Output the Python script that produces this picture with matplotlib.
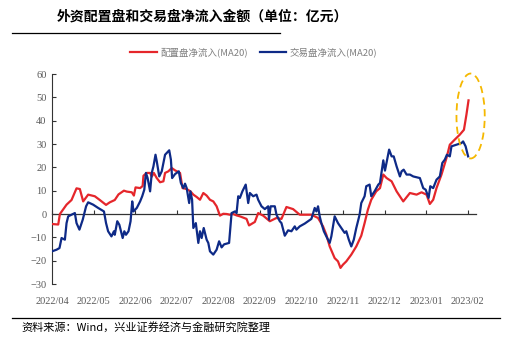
import matplotlib
matplotlib.use('Agg')
import matplotlib.pyplot as plt
from matplotlib.lines import Line2D
from matplotlib.patches import Ellipse

plt.rcParams['font.family'] = ['Noto Sans CJK SC', 'DejaVu Sans']

# x = months since 2022/04 (category axis in the original)
month_labels = ['2022/04', '2022/05', '2022/06', '2022/07', '2022/08', '2022/09',
                '2022/10', '2022/11', '2022/12', '2023/01', '2023/02']

# 配置盘净流入(MA20)
red_x = [0.00, 0.15, 0.19, 0.35, 0.47, 0.59, 0.67, 0.75, 0.87, 1.03, 1.15, 1.30,
         1.39, 1.51, 1.60, 1.73, 1.80, 1.92, 1.97, 2.01, 2.12, 2.18, 2.20, 2.28,
         2.36, 2.40, 2.45, 2.52, 2.60, 2.68, 2.72, 2.80, 2.88, 2.96, 3.08, 3.14,
         3.24, 3.33, 3.40, 3.48, 3.56, 3.64, 3.72, 3.80, 3.88, 3.96, 4.04, 4.12,
         4.20, 4.28, 4.36, 4.44, 4.52, 4.68, 4.74, 4.88, 4.96, 5.08, 5.24, 5.40,
         5.52, 5.64, 5.80, 5.96, 6.24, 6.40, 6.52, 6.60, 6.68, 6.80, 6.88, 6.94,
         7.00, 7.08, 7.20, 7.32, 7.44, 7.52, 7.60, 7.68, 7.80, 7.89, 7.97, 8.05,
         8.17, 8.29, 8.45, 8.61, 8.77, 8.89, 9.01, 9.09, 9.17, 9.25, 9.37, 9.49,
         9.57, 9.69, 9.81, 9.91, 9.97, 10.02]
red_y = [-4.3, -4.5, 0.0, 4.0, 6.0, 11.0, 10.7, 5.4, 8.3, 7.6, 6.0, 3.9,
         5.0, 6.0, 8.4, 10.0, 9.6, 9.3, 7.9, 11.4, 11.1, 12.0, 16.4, 17.6,
         17.6, 16.0, 17.6, 15.4, 13.6, 14.0, 17.6, 18.3, 19.7, 18.7, 17.6, 11.1,
         10.7, 9.7, 8.3, 7.3, 6.1, 9.0, 7.9, 6.1, 5.4, 3.3, -0.7, 0.1,
         0.0, -0.3, 0.0, -0.6, -1.0, -2.1, -4.9, -3.4, 0.4, -0.7, -3.1, -1.7,
         -2.1, 3.0, 2.1, -0.3, -0.3, -1.7, -5.3, -8.9, -13.9, -18.9, -20.3, -23.1,
         -21.7, -20.3, -17.4, -13.9, -9.3, -3.9, 1.9, 6.1, 9.7, 11.1, 16.9, 15.4,
         14.0, 9.7, 5.4, 9.0, 8.3, 9.3, 8.3, 4.3, 6.1, 11.1, 16.9, 24.0,
         29.7, 31.9, 34.0, 36.1, 42.6, 48.7]

# 交易盘净流入(MA20)
blue_x = [0.00, 0.11, 0.18, 0.23, 0.31, 0.35, 0.39, 0.47, 0.55, 0.59, 0.66, 0.74,
          0.82, 0.87, 0.99, 1.11, 1.25, 1.30, 1.35, 1.43, 1.49, 1.51, 1.57, 1.62,
          1.70, 1.74, 1.78, 1.84, 1.89, 1.93, 1.96, 2.04, 2.12, 2.17, 2.22, 2.26,
          2.30, 2.36, 2.40, 2.44, 2.49, 2.52, 2.58, 2.64, 2.72, 2.82, 2.86, 2.89,
          2.96, 3.05, 3.10, 3.16, 3.20, 3.24, 3.30, 3.33, 3.37, 3.40, 3.46, 3.52,
          3.56, 3.60, 3.65, 3.72, 3.76, 3.80, 3.88, 3.96, 4.02, 4.08, 4.14, 4.26,
          4.32, 4.40, 4.44, 4.48, 4.52, 4.58, 4.66, 4.72, 4.76, 4.84, 4.92, 4.96,
          5.04, 5.12, 5.20, 5.22, 5.26, 5.36, 5.40, 5.48, 5.52, 5.60, 5.68, 5.76,
          5.84, 5.88, 5.96, 6.08, 6.24, 6.32, 6.36, 6.40, 6.44, 6.48, 6.54, 6.60,
          6.68, 6.72, 6.80, 6.88, 6.96, 7.04, 7.08, 7.14, 7.20, 7.26, 7.32, 7.40,
          7.44, 7.52, 7.56, 7.64, 7.68, 7.76, 7.85, 7.89, 7.93, 7.97, 8.01, 8.11,
          8.17, 8.22, 8.29, 8.37, 8.41, 8.46, 8.53, 8.61, 8.69, 8.85, 8.93, 8.99,
          9.06, 9.10, 9.17, 9.25, 9.33, 9.39, 9.45, 9.50, 9.57, 9.61, 9.73, 9.85,
          9.89, 9.95, 10.01]
blue_y = [-16.0, -15.3, -14.6, -10.3, -11.0, -3.9, -1.0, -0.3, 0.4, -3.9, -6.7, -2.4,
          3.3, 5.0, 4.0, 2.6, 1.1, -3.9, -7.4, -9.6, -7.4, -8.9, -3.1, -4.6,
          -10.3, -7.4, -8.9, -7.4, -3.1, 5.4, 1.1, 2.6, 5.4, 7.6, 10.4, 17.6,
          15.4, 9.7, 17.6, 20.4, 25.4, 22.6, 16.1, 18.3, 25.4, 27.3, 23.3, 15.4,
          17.1, 18.3, 13.3, 11.1, 13.0, 11.1, 4.7, 9.7, 6.1, -6.0, -3.9, -12.4,
          -7.4, -10.3, -6.0, -11.0, -12.4, -16.0, -17.4, -15.3, -11.7, -14.3, -13.0, -12.4,
          0.4, 1.1, 0.4, 7.6, 6.9, 9.7, 12.6, 4.7, 9.0, 7.6, 8.3, 6.1,
          3.3, 2.1, 3.3, -2.4, 3.3, 3.3, -0.3, -3.1, -3.9, -9.3, -7.0, -7.4,
          -5.3, -6.7, -5.3, -4.1, -2.1, 2.6, 1.1, 3.3, -1.0, -3.9, -7.4, -9.6,
          -12.4, -9.6, -1.0, -3.9, -6.0, -8.1, -7.4, -11.0, -13.9, -11.0, -6.0, -0.3,
          4.7, 7.6, 11.9, 12.6, 7.6, 9.7, 12.6, 13.3, 18.3, 23.0, 18.6, 27.6,
          24.7, 24.7, 20.4, 16.1, 18.3, 19.0, 16.9, 16.9, 16.1, 15.4, 11.1, 10.4,
          6.9, 11.9, 11.1, 14.7, 16.1, 21.9, 23.3, 25.4, 24.7, 29.0, 29.7, 30.4,
          31.1, 29.0, 24.7]

red = '#E5262B'
blue = '#0E2A87'
gray = '#595959'

fig = plt.figure(figsize=(5.26, 3.48), dpi=100)
ax = fig.add_axes([52/526, 1-284/348, 424/526, 210/348])

ax.plot(red_x, red_y, color=red, lw=1.6, zorder=3)
ax.plot(blue_x, blue_y, color=blue, lw=1.6, zorder=4)

# highlight the recent jump
ell = Ellipse((10.07, 42), 0.68, 36.4, fill=False, edgecolor='#F5B800',
              lw=1.3, ls=(0, (4, 2.5)), zorder=5, clip_on=False)
ax.add_patch(ell)

ax.set_xlim(0, 10.2)
ax.set_ylim(-30, 60)
ax.set_yticks(range(-30, 61, 10))
ax.set_xticks(range(len(month_labels)))
ax.set_xticklabels(month_labels)

for s in ['top', 'right', 'bottom']:
    ax.spines[s].set_visible(False)
ax.spines['left'].set_color('#333333')
ax.spines['left'].set_linewidth(0.8)

ax.tick_params(axis='y', direction='in', length=3, width=0.8, color='#333333',
               labelsize=7.5, labelcolor=gray, pad=4)
ax.tick_params(axis='x', length=0, labelsize=7.5, labelcolor=gray, pad=9)
for lab in ax.get_xticklabels() + ax.get_yticklabels():
    lab.set_family('Liberation Serif')

# zero line with upward ticks
sec = ax.secondary_xaxis(1/3)
sec.set_xticks(range(len(month_labels)))
sec.tick_params(direction='in', length=3, width=0.8, color='#333333', labelbottom=False,
                labeltop=False)
sec.spines['bottom'].set_color('#333333')
sec.spines['bottom'].set_linewidth(0.9)
sec.spines['top'].set_visible(False)
sec.set_xticklabels([])

handles = [Line2D([0], [0], color=red, lw=1.6), Line2D([0], [0], color=blue, lw=1.6)]
leg = fig.legend(handles, ['配置盘净流入(MA20)', '交易盘净流入(MA20)'], ncol=2,
                 loc='center', bbox_to_anchor=(254/526, 1-52/348), frameon=False,
                 fontsize=6.8, handlelength=2.8, handletextpad=0.4, columnspacing=1.2)
for t in leg.get_texts():
    t.set_color('#7f7f7f')

fig.text(57/526, 1-17/348, '外资配置盘和交易盘净流入金额（单位：亿元）',
         fontsize=10, fontweight='bold', va='center', ha='left')
fig.add_artist(Line2D([12/526, 280/526], [1-33/348, 1-33/348], color='black', lw=0.9))
fig.add_artist(Line2D([12/526, 500/526], [1-318/348, 1-318/348], color='black', lw=0.9))
fig.text(21/526, 1-327/348, '资料来源：Wind，兴业证券经济与金融研究院整理',
         fontsize=8, va='center', ha='left')

fig.savefig('out.png', dpi=100)
